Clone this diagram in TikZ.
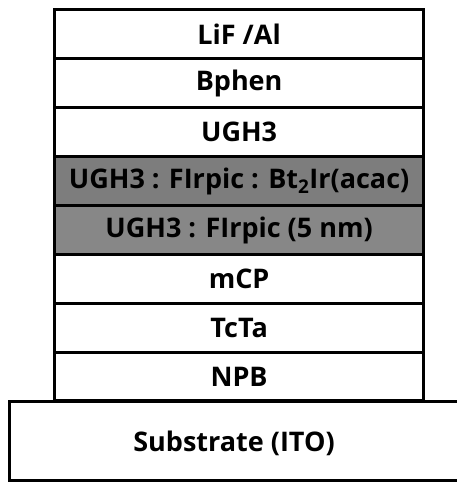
\documentclass[tikz,border=0pt]{standalone}
\usepackage{fontspec}
\setmainfont{Open Sans}
\begin{document}
\begin{tikzpicture}[x=1pt,y=1pt,
  layer/.style={draw=black,line width=3.2pt,minimum width=369pt,minimum height=49pt,inner sep=0pt,anchor=north west,font=\fontsize{27}{30}\selectfont\bfseries}]
\useasboundingbox (0,0) rectangle (457,484);
\fill[white] (0,0) rectangle (457,484);
\node[layer] (lif) at (53,476) {LiF /Al};
\node[layer] (bphen) at (53,427) {Bphen};
\node[layer] (ugh) at (53,378) {UGH3};
\node[layer,fill={rgb,255:red,125;green,125;blue,125}] (eml1) at (53,329) {UGH3 : FIrpic : Bt\textsubscript{2}Ir(acac)};
\node[layer,fill={rgb,255:red,135;green,135;blue,135}] (eml2) at (53,280) {UGH3 : FIrpic (5 nm)};
\node[layer] (mcp) at (53,231) {mCP};
\node[layer] (tcta) at (53,182) {TcTa};
\node[layer,minimum height=48pt] (npb) at (53,133) {NPB};
\node[layer,minimum width=460pt,minimum height=79pt] (sub) at (8,84) {};
\node[font=\fontsize{27}{30}\selectfont\bfseries] (subt) at (234,41) {Substrate (ITO)};
\end{tikzpicture}
\end{document}
